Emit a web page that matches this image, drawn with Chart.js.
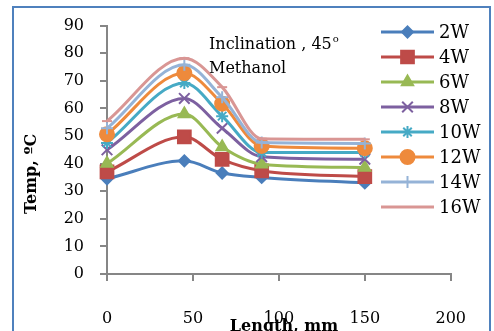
<!DOCTYPE html>
<html>
<head>
<meta charset="utf-8">
<script src="https://cdn.jsdelivr.net/npm/chart.js@4.4.1/dist/chart.umd.min.js"></script>
<style>
  html, body { margin: 0; padding: 0; background: #fff; }
  #wrap { width: 494px; height: 331px; }
</style>
</head>
<body>
<div id="wrap"><canvas id="tempChart" width="494" height="331"></canvas></div>
<script>
// data
const lengths = [0, 45, 67, 90, 150];
const seriesNames = ['2W', '4W', '6W', '8W', '10W', '12W', '14W', '16W'];
const temp2W  = [34.5, 41.0, 36.6, 35.0, 33.0];
const temp4W  = [37.0, 49.7, 41.5, 37.4, 35.3];
const temp6W  = [40.0, 58.0, 46.0, 39.8, 38.6];
const temp8W  = [45.0, 63.6, 52.8, 42.5, 41.6];
const temp10W = [47.5, 69.2, 57.2, 44.0, 44.0];
const temp12W = [50.6, 72.8, 61.7, 46.4, 45.6];
const temp14W = [52.8, 75.8, 64.0, 47.6, 47.3];
const temp16W = [55.4, 78.2, 67.7, 49.0, 48.8];
const xTicks = [0, 50, 100, 150, 200];

const allTemps = [temp2W, temp4W, temp6W, temp8W, temp10W, temp12W, temp14W, temp16W];

// excel 2010 palette + marker per series
const colors = ['#4A7EBB', '#BE4B48', '#98B954', '#7D60A0', '#46AAC5', '#EE8A3C', '#95B3D7', '#D99694'];
const markers = ['rectRot', 'rect', 'triangle', 'crossRot', 'star', 'circle', 'cross', 'line'];
const markerSize = [5.5, 9, 6.5, 7.5, 6, 7, 6, 5];

const serif = '"DejaVu Serif", "Liberation Serif", serif';

const datasets = seriesNames.map((name, i) => ({
  label: name,
  data: lengths.map((x, j) => ({ x: x, y: allTemps[i][j] })),
  showLine: true,
  cubicInterpolationMode: 'monotone',
  clip: false,
  borderColor: colors[i],
  backgroundColor: colors[i],
  borderWidth: 3,
  pointStyle: markers[i],
  pointRadius: markerSize[i],
  pointBorderWidth: 2,
  pointBackgroundColor: colors[i],
  pointBorderColor: colors[i],
  order: 20 - i
}));

// frame, axis titles, note and legend
const extras = {
  id: 'extras',
  beforeDraw(chart) {
    const ctx = chart.ctx;
    ctx.save();
    ctx.fillStyle = '#fff';
    ctx.fillRect(0, 0, chart.width, chart.height);
    ctx.restore();
  },
  afterDraw(chart) {
    const ctx = chart.ctx;
    ctx.save();

    ctx.strokeStyle = '#4F81BD';
    ctx.lineWidth = 2;
    ctx.strokeRect(13, 7, 477, 400);

    ctx.fillStyle = '#000';
    ctx.font = '16px ' + serif;
    ctx.textBaseline = 'alphabetic';
    ctx.textAlign = 'left';
    const part = 'Inclination , 45';
    ctx.fillText(part, 209, 49);
    const w = ctx.measureText(part).width;
    ctx.font = '10px ' + serif;
    ctx.fillText('o', 209 + w + 1, 42);
    ctx.font = '16px ' + serif;
    ctx.fillText('Methanol', 209, 73);

    ctx.font = 'bold 16px ' + serif;
    ctx.textAlign = 'center';
    ctx.fillText('Length, mm', 284, 331);

    ctx.translate(36, 174);
    ctx.rotate(-Math.PI / 2);
    ctx.textBaseline = 'alphabetic';
    ctx.fillText('Temp, \u00BAC', 0, 0);
    ctx.setTransform(1, 0, 0, 1, 0, 0);

    chart.data.datasets.forEach((ds, i) => {
      const y = 32 + 25 * i;
      ctx.strokeStyle = ds.borderColor;
      ctx.fillStyle = ds.borderColor;
      ctx.lineWidth = 3;
      ctx.beginPath();
      ctx.moveTo(381, y);
      ctx.lineTo(434, y);
      ctx.stroke();
      ctx.lineWidth = 2;
      Chart.helpers.drawPoint(ctx, {
        pointStyle: ds.pointStyle, radius: ds.pointRadius, rotation: 0, borderWidth: 2
      }, 407.5, y);
      ctx.fillStyle = '#000';
      ctx.font = '18px ' + serif;
      ctx.textAlign = 'left';
      ctx.textBaseline = 'middle';
      ctx.fillText(ds.label, 439, y + 1);
    });
    ctx.restore();
  }
};

new Chart(document.getElementById('tempChart'), {
  type: 'scatter',
  data: { datasets: datasets },
  options: {
    responsive: false,
    animation: false,
    layout: { padding: { left: 0, right: 34, top: 24, bottom: 0 } },
    plugins: {
      legend: { display: false },
      tooltip: { enabled: false }
    },
    scales: {
      x: {
        type: 'linear',
        min: 0,
        max: 200,
        afterBuildTicks: (scale) => { scale.ticks = xTicks.map(v => ({ value: v })); },
        afterFit: (scale) => { scale.height = 57; },
        grid: { drawOnChartArea: false, color: '#868686', tickLength: 7, lineWidth: 2 },
        border: { color: '#868686', width: 2 },
        ticks: { color: '#000', padding: 28, font: { family: serif, size: 16 } }
      },
      y: {
        min: 0,
        max: 90,
        afterFit: (scale) => { scale.width = 107; },
        grid: { drawOnChartArea: false, color: '#868686', tickLength: 7, lineWidth: 2 },
        border: { color: '#868686', width: 2 },
        ticks: { stepSize: 10, color: '#000', padding: 16, font: { family: serif, size: 16 } }
      }
    }
  },
  plugins: [extras]
});
</script>
</body>
</html>
